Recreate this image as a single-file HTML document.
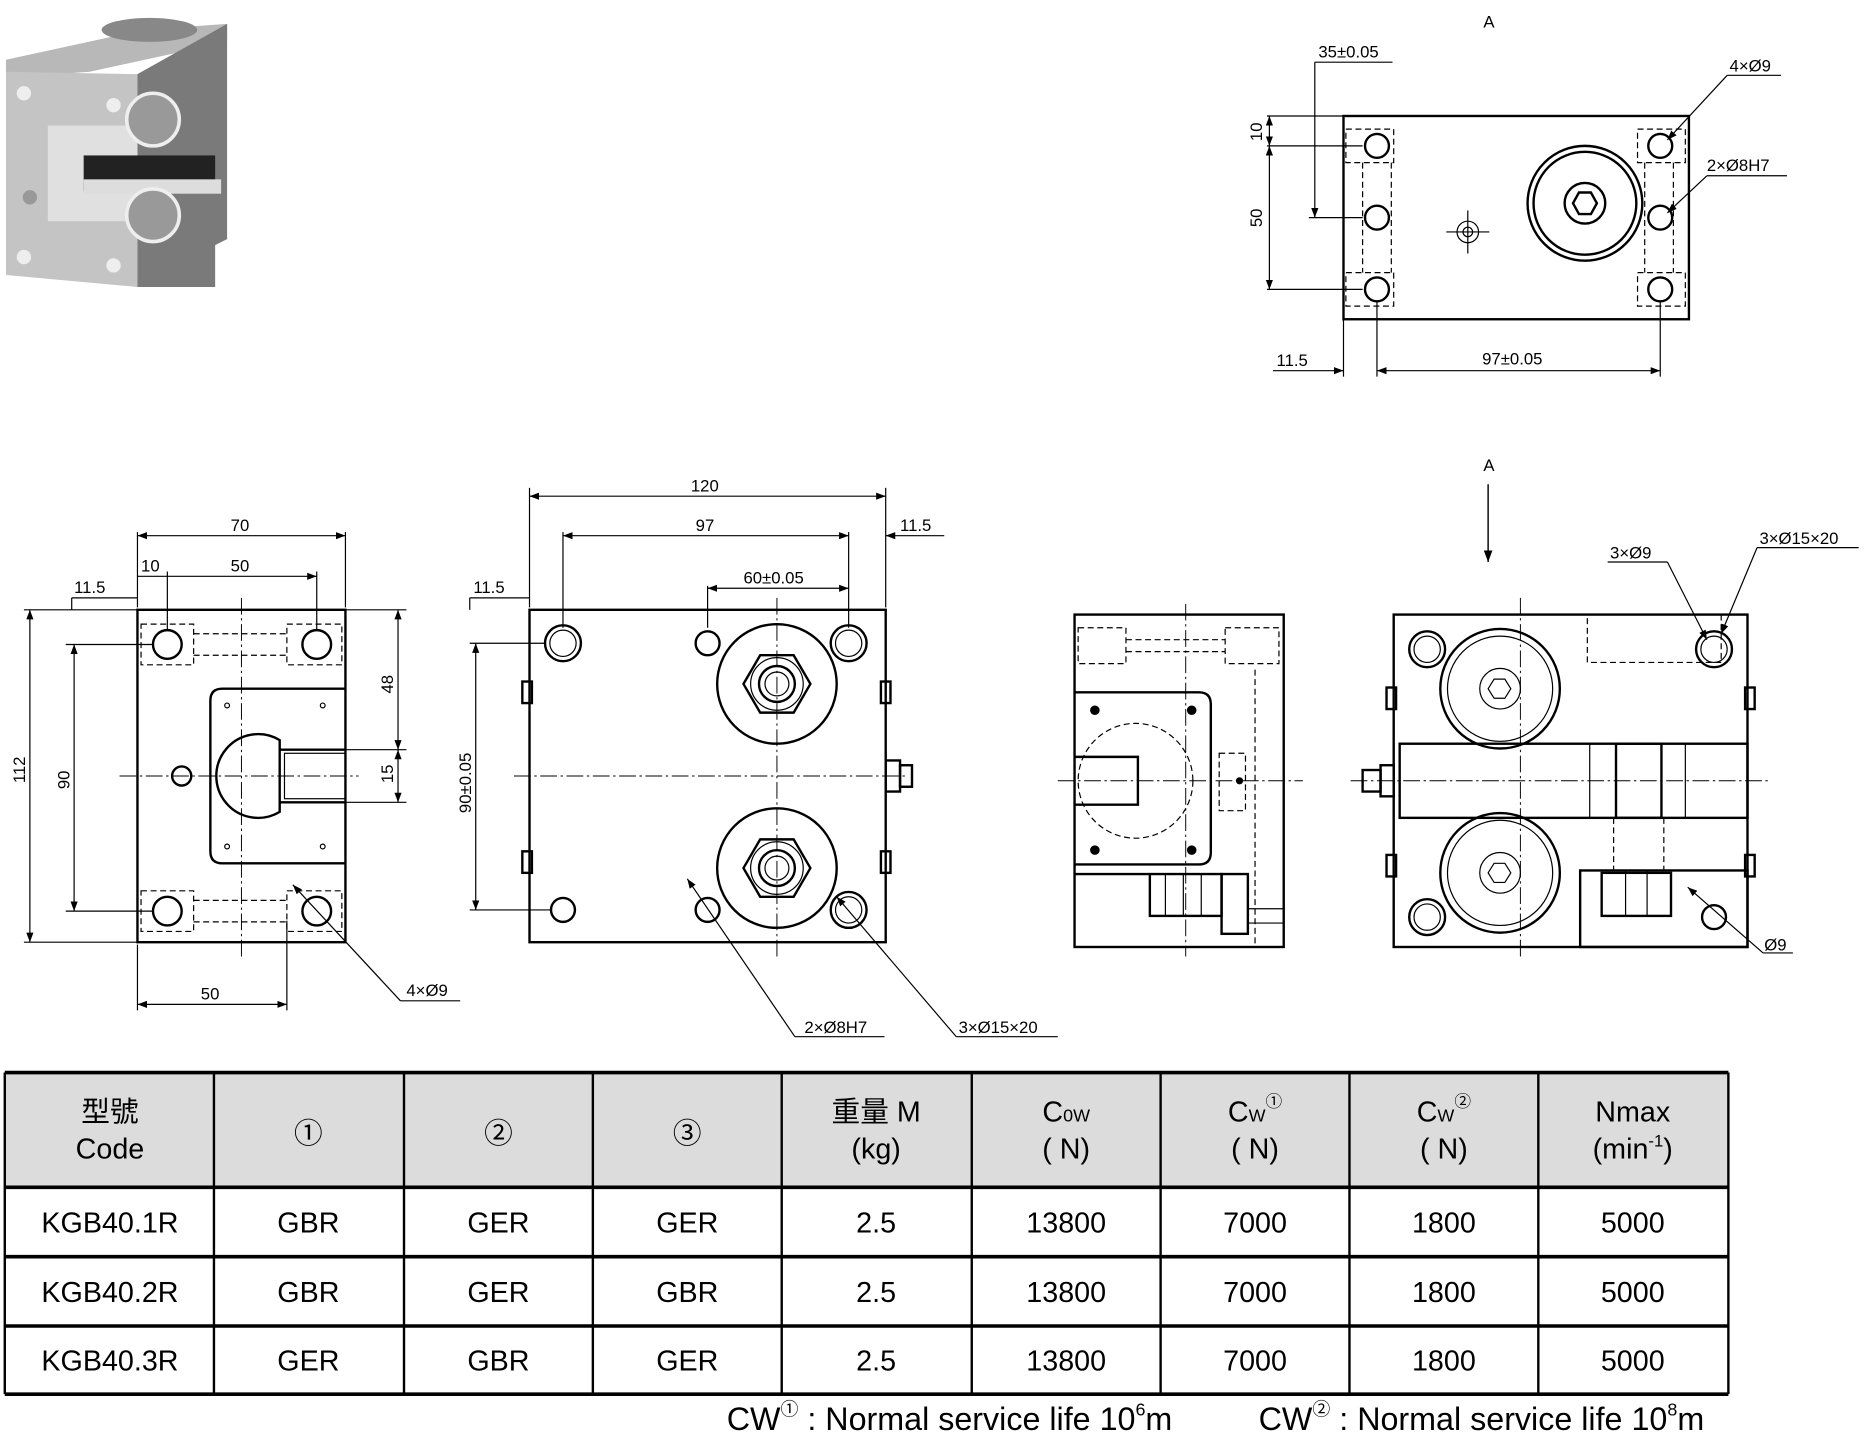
<!DOCTYPE html>
<html><head><meta charset="utf-8"><style>
html,body{margin:0;padding:0;background:#fff}
svg{display:block}
text{font-family:"Liberation Sans","Noto Sans CJK TC",sans-serif;fill:#000}
.l{stroke:#000;stroke-width:2;fill:none}
.t{stroke:#000;stroke-width:1;fill:none}
.d{stroke:#000;stroke-width:1;fill:none;stroke-dasharray:5 3}
.c{stroke:#000;stroke-width:0.8;fill:none;stroke-dasharray:14 3 2 3}
.s{font-size:14px}
</style></head><body>
<svg width="1873" height="1442" viewBox="0 0 1567 1206" preserveAspectRatio="none" xmlns="http://www.w3.org/2000/svg">
<defs>
<marker id="a" markerWidth="8" markerHeight="6" refX="8" refY="3" orient="auto-start-reverse"><path d="M0,0 L8,3 L0,6z" fill="#000"/></marker>
</defs>
<!-- 3D image -->
<g>
<polygon points="5,50 120,25 190,20 190,35 75,60 5,65" fill="#b8b8b8"/>
<polygon points="5,60 115,62 115,240 5,230" fill="#c4c4c4"/>
<polygon points="115,62 190,20 190,200 180,205 180,240 115,240" fill="#7a7a7a"/>
<ellipse cx="125" cy="25" rx="40" ry="10" fill="#888"/>
<rect x="40" y="105" width="75" height="80" fill="#e0e0e0"/>
<rect x="70" y="130" width="110" height="30" fill="#222"/>
<rect x="70" y="150" width="115" height="12" fill="#ddd"/>
<circle cx="128" cy="100" r="22" fill="#999" stroke="#eee" stroke-width="3"/>
<circle cx="128" cy="180" r="22" fill="#999" stroke="#eee" stroke-width="3"/>
<circle cx="20" cy="78" r="6" fill="#eee"/><circle cx="95" cy="88" r="6" fill="#eee"/>
<circle cx="20" cy="215" r="6" fill="#eee"/><circle cx="95" cy="222" r="6" fill="#eee"/>
<circle cx="25" cy="165" r="6" fill="#999"/>
</g>

<!-- Top-right view A -->
<g>
<text x="1241" y="23" class="s">A</text>
<rect x="1124" y="97" width="289" height="170" class="l"/>
<g class="d"><rect x="1126" y="108" width="40" height="28"/><rect x="1126" y="228" width="40" height="28"/><rect x="1370" y="108" width="40" height="28"/><rect x="1370" y="228" width="40" height="28"/>
<line x1="1140" y1="136" x2="1140" y2="228"/><line x1="1164" y1="136" x2="1164" y2="228"/><line x1="1376" y1="136" x2="1376" y2="228"/><line x1="1400" y1="136" x2="1400" y2="228"/></g>
<g class="l"><circle cx="1152" cy="122" r="10"/><circle cx="1152" cy="182" r="10"/><circle cx="1152" cy="242" r="10"/><circle cx="1389" cy="122" r="10"/><circle cx="1389" cy="182" r="10"/><circle cx="1389" cy="242" r="10"/>
<circle cx="1326" cy="170" r="48"/><circle cx="1326" cy="170" r="43"/><circle cx="1326" cy="170" r="17"/>
<polygon points="1336,170 1331,179 1321,179 1316,170 1321,161 1331,161"/></g>
<circle cx="1228" cy="194" r="9" class="t"/><circle cx="1228" cy="194" r="4" class="t"/>
<line x1="1210" y1="194" x2="1246" y2="194" class="t"/><line x1="1228" y1="176" x2="1228" y2="212" class="t"/>
<line x1="1060" y1="97" x2="1124" y2="97" class="t"/><line x1="1060" y1="122" x2="1140" y2="122" class="t"/><line x1="1060" y1="242" x2="1140" y2="242" class="t"/><line x1="1095" y1="182" x2="1140" y2="182" class="t"/>
<line x1="1062" y1="97" x2="1062" y2="122" class="t" marker-start="url(#a)" marker-end="url(#a)"/>
<line x1="1062" y1="122" x2="1062" y2="242" class="t" marker-start="url(#a)" marker-end="url(#a)"/>
<text transform="translate(1056,118) rotate(-90)" class="s">10</text>
<text transform="translate(1056,190) rotate(-90)" class="s">50</text>
<line x1="1100" y1="52" x2="1100" y2="182" class="t" marker-end="url(#a)"/><line x1="1100" y1="52" x2="1165" y2="52" class="t"/>
<text x="1103" y="48" class="s">35±0.05</text>
<line x1="1124" y1="267" x2="1124" y2="315" class="t"/><line x1="1152" y1="252" x2="1152" y2="315" class="t"/><line x1="1389" y1="252" x2="1389" y2="315" class="t"/>
<line x1="1065" y1="310" x2="1124" y2="310" class="t" marker-end="url(#a)"/><line x1="1152" y1="310" x2="1389" y2="310" class="t" marker-start="url(#a)" marker-end="url(#a)"/>
<text x="1068" y="306" class="s">11.5</text><text x="1240" y="305" class="s">97±0.05</text>
<line x1="1490" y1="63" x2="1445" y2="63" class="t"/><line x1="1445" y1="63" x2="1395" y2="117" class="t" marker-end="url(#a)"/><text x="1447" y="60" class="s">4×Ø9</text>
<line x1="1495" y1="147" x2="1428" y2="147" class="t"/><line x1="1428" y1="147" x2="1395" y2="178" class="t" marker-end="url(#a)"/><text x="1428" y="143" class="s">2×Ø8H7</text>
</g>

<!-- View 1 -->
<g>
<rect x="115" y="510" width="174" height="278" class="l"/>
<path d="M289,576 L186,576 Q176,576 176,586 L176,712 Q176,722 186,722 L289,722" class="l"/>
<path d="M289,627 L234,627 L234,671 L289,671" class="l"/>
<path d="M234,627 L234,619 A35,35 0 1 0 234,679 L234,671" class="l"/>
<rect x="238" y="630" width="51" height="38" class="t"/>
<g class="l"><circle cx="140" cy="539" r="12"/><circle cx="265" cy="539" r="12"/><circle cx="140" cy="762" r="12"/><circle cx="265" cy="762" r="12"/><circle cx="152" cy="649" r="8"/></g>
<g class="d"><rect x="118" y="522" width="44" height="34"/><rect x="240" y="522" width="46" height="34"/><rect x="118" y="745" width="44" height="34"/><rect x="240" y="745" width="46" height="34"/>
<line x1="162" y1="530" x2="240" y2="530"/><line x1="162" y1="548" x2="240" y2="548"/><line x1="162" y1="753" x2="240" y2="753"/><line x1="162" y1="771" x2="240" y2="771"/></g>
<g class="t"><circle cx="190" cy="590" r="2"/><circle cx="270" cy="590" r="2"/><circle cx="190" cy="708" r="2"/><circle cx="270" cy="708" r="2"/></g>
<line x1="100" y1="649" x2="300" y2="649" class="c"/><line x1="202" y1="500" x2="202" y2="800" class="c"/>
<line x1="115" y1="445" x2="115" y2="508" class="t"/><line x1="289" y1="445" x2="289" y2="508" class="t"/>
<line x1="115" y1="448" x2="289" y2="448" class="t" marker-start="url(#a)" marker-end="url(#a)"/><text x="193" y="444" class="s">70</text>
<line x1="140" y1="478" x2="140" y2="527" class="t"/><line x1="265" y1="478" x2="265" y2="527" class="t"/>
<line x1="115" y1="482" x2="265" y2="482" class="t" marker-end="url(#a)"/><text x="118" y="478" class="s">10</text><text x="193" y="478" class="s">50</text>
<line x1="60" y1="500" x2="115" y2="500" class="t"/><line x1="60" y1="500" x2="60" y2="510" class="t"/><text x="62" y="496" class="s">11.5</text>
<line x1="20" y1="510" x2="115" y2="510" class="t"/><line x1="20" y1="788" x2="115" y2="788" class="t"/>
<line x1="25" y1="510" x2="25" y2="788" class="t" marker-start="url(#a)" marker-end="url(#a)"/><text transform="translate(21,655) rotate(-90)" class="s">112</text>
<line x1="55" y1="539" x2="128" y2="539" class="t"/><line x1="55" y1="762" x2="128" y2="762" class="t"/>
<line x1="62" y1="539" x2="62" y2="762" class="t" marker-start="url(#a)" marker-end="url(#a)"/><text transform="translate(58,660) rotate(-90)" class="s">90</text>
<line x1="289" y1="510" x2="340" y2="510" class="t"/><line x1="289" y1="627" x2="340" y2="627" class="t"/><line x1="289" y1="671" x2="340" y2="671" class="t"/>
<line x1="333" y1="510" x2="333" y2="627" class="t" marker-start="url(#a)" marker-end="url(#a)"/><text transform="translate(329,580) rotate(-90)" class="s">48</text>
<line x1="333" y1="627" x2="333" y2="671" class="t" marker-start="url(#a)" marker-end="url(#a)"/><text transform="translate(329,655) rotate(-90)" class="s">15</text>
<line x1="115" y1="790" x2="115" y2="845" class="t"/><line x1="240" y1="770" x2="240" y2="845" class="t"/>
<line x1="115" y1="840" x2="240" y2="840" class="t" marker-start="url(#a)" marker-end="url(#a)"/><text x="168" y="836" class="s">50</text>
<line x1="385" y1="837" x2="335" y2="837" class="t"/><line x1="335" y1="837" x2="245" y2="740" class="t" marker-end="url(#a)"/><text x="340" y="833" class="s">4×Ø9</text>
</g>

<!-- View 2 -->
<g>
<rect x="443" y="510" width="298" height="278" class="l"/>
<g class="l"><circle cx="471" cy="538" r="15"/><circle cx="710" cy="538" r="15"/><circle cx="710" cy="761" r="15"/>
<circle cx="592" cy="538" r="10"/><circle cx="471" cy="761" r="10"/><circle cx="592" cy="761" r="10"/>
<circle cx="650" cy="572" r="50"/><circle cx="650" cy="726" r="50"/>
<polygon points="678,572 664,596 636,596 622,572 636,548 664,548"/><polygon points="678,726 664,750 636,750 622,726 636,702 664,702"/>
<circle cx="650" cy="572" r="15"/><circle cx="650" cy="726" r="15"/></g>
<g class="t"><circle cx="471" cy="538" r="11"/><circle cx="710" cy="538" r="11"/><circle cx="710" cy="761" r="11"/><circle cx="650" cy="572" r="10"/><circle cx="650" cy="726" r="10"/><circle cx="650" cy="572" r="22"/><circle cx="650" cy="726" r="22"/></g>
<g class="l"><rect x="437" y="570" width="8" height="18"/><rect x="437" y="712" width="8" height="18"/><rect x="737" y="570" width="8" height="18"/><rect x="737" y="712" width="8" height="18"/><rect x="741" y="636" width="12" height="26"/><rect x="753" y="640" width="10" height="18"/></g>
<line x1="430" y1="649" x2="760" y2="649" class="c"/><line x1="650" y1="500" x2="650" y2="800" class="c"/>
<line x1="443" y1="408" x2="443" y2="508" class="t"/><line x1="741" y1="408" x2="741" y2="508" class="t"/>
<line x1="443" y1="415" x2="741" y2="415" class="t" marker-start="url(#a)" marker-end="url(#a)"/><text x="578" y="411" class="s">120</text>
<line x1="471" y1="445" x2="471" y2="525" class="t"/><line x1="710" y1="445" x2="710" y2="525" class="t"/>
<line x1="471" y1="448" x2="710" y2="448" class="t" marker-start="url(#a)" marker-end="url(#a)"/><text x="582" y="444" class="s">97</text>
<line x1="741" y1="448" x2="790" y2="448" class="t" marker-start="url(#a)"/><text x="753" y="444" class="s">11.5</text>
<line x1="592" y1="490" x2="592" y2="525" class="t"/><line x1="592" y1="492" x2="710" y2="492" class="t" marker-start="url(#a)" marker-end="url(#a)"/><text x="622" y="488" class="s">60±0.05</text>
<line x1="393" y1="500" x2="443" y2="500" class="t"/><line x1="393" y1="500" x2="393" y2="510" class="t"/><text x="396" y="496" class="s">11.5</text>
<line x1="393" y1="538" x2="456" y2="538" class="t"/><line x1="393" y1="761" x2="461" y2="761" class="t"/>
<line x1="398" y1="538" x2="398" y2="761" class="t" marker-start="url(#a)" marker-end="url(#a)"/><text transform="translate(394,680) rotate(-90)" class="s">90±0.05</text>
<line x1="740" y1="867" x2="665" y2="867" class="t"/><line x1="665" y1="867" x2="575" y2="735" class="t" marker-end="url(#a)"/><text x="673" y="864" class="s">2×Ø8H7</text>
<line x1="885" y1="867" x2="800" y2="867" class="t"/><line x1="800" y1="867" x2="700" y2="750" class="t" marker-end="url(#a)"/><text x="802" y="864" class="s">3×Ø15×20</text>
</g>

<!-- View 3 -->
<g>
<rect x="899" y="514" width="175" height="278" class="l"/>
<path d="M899,579 L1003,579 Q1013,579 1013,589 L1013,713 Q1013,723 1003,723 L899,723" class="l"/>
<path d="M899,633 L952,633 L952,673 L899,673" class="l"/>
<circle cx="950" cy="653" r="48" class="d"/>
<g fill="#000"><circle cx="916" cy="594" r="4"/><circle cx="997" cy="594" r="4"/><circle cx="916" cy="711" r="4"/><circle cx="997" cy="711" r="4"/><circle cx="1037" cy="653" r="3"/></g>
<g class="d"><rect x="902" y="525" width="40" height="30"/><rect x="1025" y="525" width="45" height="30"/><line x1="942" y1="535" x2="1025" y2="535"/><line x1="942" y1="545" x2="1025" y2="545"/>
<rect x="1020" y="630" width="22" height="48"/><line x1="1050" y1="560" x2="1050" y2="790"/></g>
<g class="l"><rect x="962" y="731" width="60" height="35"/><rect x="1022" y="731" width="22" height="50"/><line x1="899" y1="731" x2="962" y2="731"/></g>
<g class="t"><line x1="975" y1="731" x2="975" y2="766"/><line x1="990" y1="731" x2="990" y2="766"/><line x1="1005" y1="731" x2="1005" y2="766"/><line x1="1044" y1="760" x2="1074" y2="760"/><line x1="1044" y1="772" x2="1074" y2="772"/></g>
<line x1="885" y1="653" x2="1090" y2="653" class="c"/><line x1="992" y1="505" x2="992" y2="800" class="c"/>
</g>

<!-- View 4 -->
<g>
<text x="1241" y="394" class="s">A</text>
<line x1="1245" y1="405" x2="1245" y2="470" class="t" marker-end="url(#a)" style="stroke-width:1.2"/>
<rect x="1166" y="514" width="296" height="278" class="l"/>
<rect x="1171" y="622" width="291" height="62" class="l"/>
<g class="l"><circle cx="1255" cy="576" r="50"/><circle cx="1255" cy="730" r="50"/><circle cx="1194" cy="543" r="15"/><circle cx="1434" cy="543" r="15"/><circle cx="1194" cy="767" r="15"/><circle cx="1434" cy="767" r="10"/>
<rect x="1352" y="622" width="38" height="62"/><rect x="1322" y="728" width="140" height="64"/><rect x="1340" y="730" width="58" height="36"/></g>
<g class="t"><circle cx="1255" cy="576" r="44"/><circle cx="1255" cy="730" r="44"/><circle cx="1255" cy="576" r="17"/><circle cx="1255" cy="730" r="17"/>
<circle cx="1194" cy="543" r="11"/><circle cx="1434" cy="543" r="11"/><circle cx="1194" cy="767" r="11"/>
<polygon points="1264,576 1259,584 1250,584 1245,576 1250,568 1259,568"/><polygon points="1264,730 1259,738 1250,738 1245,730 1250,722 1259,722"/>
<rect x="1330" y="622" width="80" height="62"/><line x1="1360" y1="728" x2="1360" y2="766"/><line x1="1378" y1="728" x2="1378" y2="766"/></g>
<g class="d"><rect x="1328" y="514" width="112" height="40"/><line x1="1350" y1="684" x2="1350" y2="728"/><line x1="1392" y1="684" x2="1392" y2="728"/></g>
<g class="l"><rect x="1160" y="575" width="8" height="18"/><rect x="1160" y="715" width="8" height="18"/><rect x="1460" y="575" width="8" height="18"/><rect x="1460" y="715" width="8" height="18"/>
<rect x="1155" y="640" width="11" height="26"/><rect x="1140" y="644" width="15" height="18"/></g>
<line x1="1130" y1="653" x2="1480" y2="653" class="c"/><line x1="1272" y1="500" x2="1272" y2="800" class="c"/>
<line x1="1345" y1="470" x2="1395" y2="470" class="t"/><line x1="1395" y1="470" x2="1428" y2="535" class="t" marker-end="url(#a)"/><text x="1347" y="467" class="s">3×Ø9</text>
<line x1="1470" y1="458" x2="1555" y2="458" class="t"/><line x1="1470" y1="458" x2="1440" y2="530" class="t" marker-end="url(#a)"/><text x="1472" y="455" class="s">3×Ø15×20</text>
<line x1="1475" y1="797" x2="1500" y2="797" class="t"/><line x1="1475" y1="797" x2="1412" y2="742" class="t" marker-end="url(#a)"/><text x="1476" y="795" class="s">Ø9</text>
</g>

<!-- Table -->
<g>
<rect x="4" y="897" width="1442" height="96" fill="#dcdcdc"/>
<g stroke="#000" stroke-width="3"><line x1="4" y1="897" x2="1446" y2="897"/><line x1="4" y1="993" x2="1446" y2="993"/><line x1="4" y1="1051" x2="1446" y2="1051"/><line x1="4" y1="1109" x2="1446" y2="1109"/><line x1="4" y1="1166" x2="1446" y2="1166"/></g>
<g stroke="#000" stroke-width="2"><line x1="4" y1="897" x2="4" y2="1166"/><line x1="179" y1="897" x2="179" y2="1166"/><line x1="338" y1="897" x2="338" y2="1166"/><line x1="496" y1="897" x2="496" y2="1166"/><line x1="654" y1="897" x2="654" y2="1166"/><line x1="813" y1="897" x2="813" y2="1166"/><line x1="971" y1="897" x2="971" y2="1166"/><line x1="1129" y1="897" x2="1129" y2="1166"/><line x1="1287" y1="897" x2="1287" y2="1166"/><line x1="1446" y1="897" x2="1446" y2="1166"/></g>
<g font-size="24" text-anchor="middle">
<text x="92" y="938">型號</text><text x="92" y="969">Code</text>
<text x="258" y="956">①</text><text x="417" y="956">②</text><text x="575" y="956">③</text>
<text x="733" y="938">重量 M</text><text x="733" y="969">(kg)</text>
<text x="892" y="938">C<tspan font-size="15">0W</tspan></text><text x="892" y="969">( N)</text>
<text x="1050" y="938">C<tspan font-size="15">W</tspan><tspan font-size="14" dy="-12">①</tspan></text><text x="1050" y="969">( N)</text>
<text x="1208" y="938">C<tspan font-size="15">W</tspan><tspan font-size="14" dy="-12">②</tspan></text><text x="1208" y="969">( N)</text>
<text x="1366" y="938">Nmax</text><text x="1366" y="969">(min<tspan font-size="14" dy="-10">-1</tspan><tspan dy="10">)</tspan></text>
<text x="92" y="1031">KGB40.1R</text><text x="258" y="1031">GBR</text><text x="417" y="1031">GER</text><text x="575" y="1031">GER</text><text x="733" y="1031">2.5</text><text x="892" y="1031">13800</text><text x="1050" y="1031">7000</text><text x="1208" y="1031">1800</text><text x="1366" y="1031">5000</text>
<text x="92" y="1089">KGB40.2R</text><text x="258" y="1089">GBR</text><text x="417" y="1089">GER</text><text x="575" y="1089">GBR</text><text x="733" y="1089">2.5</text><text x="892" y="1089">13800</text><text x="1050" y="1089">7000</text><text x="1208" y="1089">1800</text><text x="1366" y="1089">5000</text>
<text x="92" y="1146">KGB40.3R</text><text x="258" y="1146">GER</text><text x="417" y="1146">GBR</text><text x="575" y="1146">GER</text><text x="733" y="1146">2.5</text><text x="892" y="1146">13800</text><text x="1050" y="1146">7000</text><text x="1208" y="1146">1800</text><text x="1366" y="1146">5000</text>
</g>
<g font-size="27">
<text x="608" y="1196">CW<tspan font-size="15" dy="-12">①</tspan><tspan dy="12"> : Normal service life 10</tspan><tspan font-size="15" dy="-12">6</tspan><tspan dy="12">m</tspan></text>
<text x="1053" y="1196">CW<tspan font-size="15" dy="-12">②</tspan><tspan dy="12"> : Normal service life 10</tspan><tspan font-size="15" dy="-12">8</tspan><tspan dy="12">m</tspan></text>
</g>
</g>
</svg>
</body></html>
